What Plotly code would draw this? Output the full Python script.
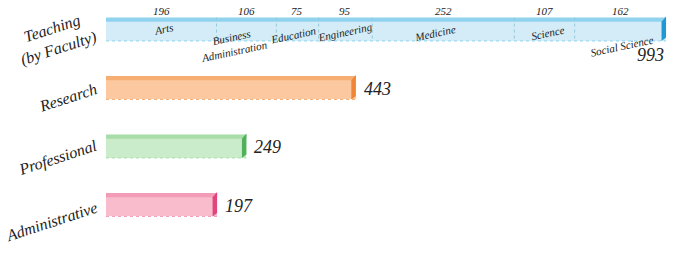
import plotly.graph_objects as go

# ---- data ----
categories = ["Teaching<br>(by Faculty)", "Research", "Professional", "Administrative"]
totals = [993, 443, 249, 197]
faculties = ["Arts", "Business<br>Administration", "Education", "Engineering",
             "Medicine", "Science", "Social Science"]
faculty_values = [196, 106, 75, 95, 252, 107, 162]

# ---- styles ----
face_colors = ["#d3ecf7", "#fcc8a0", "#cbeccb", "#f8bccd"]
top_colors = ["#8fd3ee", "#f7ae73", "#a8dca9", "#f29cb7"]
end_colors = ["#1f98d4", "#ef8535", "#4fb25b", "#e0457d"]
divider_color = "#93c9de"
# pixel offsets (dx, dy) of faculty name labels from segment centre
name_offsets = [(2, 0), (-13, -15), (-4, -6), (0, -3), (-8, -4), (3, -4), (2, -17)]
serif = "Liberation Serif, Times New Roman, DejaVu Serif, serif"
BW = 0.4  # bar thickness in category units

fig = go.Figure()
ypos = list(range(len(categories)))

starts = []
acc = 0
for v in faculty_values:
    starts.append(acc)
    acc += v
for name, v, s in zip(faculties, faculty_values, starts):
    fig.add_trace(go.Bar(
        orientation="h", x=[v], y=[ypos[0]], base=[s], width=BW,
        marker=dict(color=face_colors[0], line=dict(width=0)),
        hoverinfo="skip", showlegend=False))

for i in range(1, len(categories)):
    fig.add_trace(go.Bar(
        orientation="h", x=[totals[i]], y=[ypos[i]], width=BW,
        marker=dict(color=face_colors[i], line=dict(width=0)),
        hoverinfo="skip", showlegend=False))

shapes = []
for i, tot in enumerate(totals):
    y = ypos[i]
    shapes.append(dict(type="rect", xref="x", yref="y", x0=0, x1=tot,
                       y0=y - BW / 2, y1=y - BW / 2 + 0.07,
                       fillcolor=top_colors[i], line=dict(width=0), layer="above"))
    shapes.append(dict(type="line", xref="x", yref="y", x0=0, x1=tot,
                       y0=y + BW / 2, y1=y + BW / 2,
                       line=dict(color=top_colors[i], width=1, dash="dot"), layer="above"))
    shapes.append(dict(type="path", xref="x", yref="y",
                       path=f"M {tot - 8},{y - BW / 2 + 0.07} L {tot},{y - BW / 2 - 0.02} "
                            f"L {tot},{y + BW / 2 - 0.06} L {tot - 8},{y + BW / 2} Z",
                       fillcolor=end_colors[i], line=dict(width=0), layer="above"))

for s in starts[1:]:
    shapes.append(dict(type="line", xref="x", yref="y", x0=s, x1=s,
                       y0=ypos[0] - BW / 2, y1=ypos[0] + BW / 2,
                       line=dict(color=divider_color, width=1, dash="dot"), layer="above"))

annotations = []
for (name, v, s), (dx, dy) in zip(zip(faculties, faculty_values, starts), name_offsets):
    c = s + v / 2
    annotations.append(dict(x=c, y=ypos[0] - BW / 2, xref="x", yref="y",
                            text=f"<i>{v}</i>", showarrow=False, yanchor="bottom", yshift=-1,
                            font=dict(family=serif, size=11, color="#222")))
    annotations.append(dict(x=c, y=ypos[0], xref="x", yref="y",
                            text=f"<i>{name}</i>", showarrow=False, textangle=-12,
                            xshift=dx, yshift=dy,
                            font=dict(family=serif, size=11, color="#222")))

annotations.append(dict(x=totals[0], y=ypos[0], xref="x", yref="y",
                        text=f"<i>{totals[0]}</i>", showarrow=False,
                        xanchor="right", xshift=0, yshift=-26,
                        font=dict(family=serif, size=18, color="#222")))
for i in range(1, len(categories)):
    annotations.append(dict(x=totals[i], y=ypos[i], xref="x", yref="y",
                            text=f"<i>{totals[i]}</i>", showarrow=False,
                            xanchor="left", xshift=6, yshift=-1,
                            font=dict(family=serif, size=18, color="#222")))

cat_shift = [-9, -10, -12, -17]
for i, cat in enumerate(categories):
    annotations.append(dict(x=0, y=ypos[i], xref="paper", yref="y",
                            text=f"<i>{cat}</i>", showarrow=False, textangle=-18,
                            xanchor="right", yanchor="middle", xshift=-4,
                            yshift=cat_shift[i],
                            font=dict(family=serif, size=16, color="#222")))

fig.update_layout(
    width=676, height=255,
    margin=dict(l=106, r=6, t=0, b=21, autoexpand=False),
    paper_bgcolor="white", plot_bgcolor="white",
    barmode="overlay", bargap=0,
    xaxis=dict(range=[0, 1000], visible=False),
    yaxis=dict(range=[3.5, -0.5], visible=False),
    shapes=shapes, annotations=annotations,
)

fig.write_html("out.html", config={"displayModeBar": False},
               post_script="document.body.style.margin='0';document.body.style.overflow='hidden';")
